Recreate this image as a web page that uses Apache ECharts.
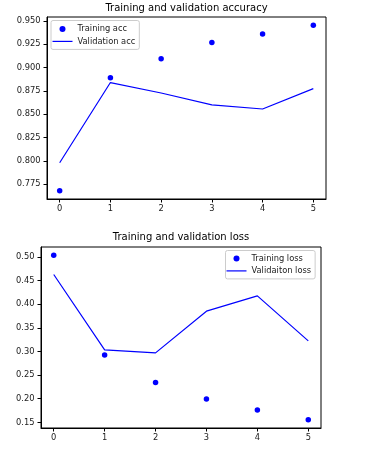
<!DOCTYPE html>
<html>
<head>
<meta charset="utf-8">
<script src="https://cdn.jsdelivr.net/npm/echarts@6/dist/echarts.min.js"></script>
<style>html,body{margin:0;padding:0;background:#fff}#c{width:365px;height:455px}</style>
</head>
<body>
<div id="c"></div>
<script>
var epochs = [0, 1, 2, 3, 4, 5];
var trainAcc = [0.768, 0.889, 0.9095, 0.927, 0.936, 0.9454];
var valAcc = [0.798, 0.884, 0.8728, 0.860, 0.8556, 0.8775];
var trainLoss = [0.5036, 0.2923, 0.2346, 0.1993, 0.176, 0.1555];
var valLoss = [0.4628, 0.3035, 0.297, 0.3852, 0.4176, 0.3225];
var accTicks = [0.775, 0.800, 0.825, 0.850, 0.875, 0.900, 0.925, 0.950];
var lossTicks = [0.15, 0.20, 0.25, 0.30, 0.35, 0.40, 0.45, 0.50];
var xTicks = [0, 1, 2, 3, 4, 5];

function range(arrs, m) {
  var all = [].concat.apply([], arrs);
  var lo = Math.min.apply(null, all), hi = Math.max.apply(null, all);
  var p = (hi - lo) * m;
  return [lo - p, hi + p];
}
var accR = range([trainAcc, valAcc], 0.05);
var lossR = range([trainLoss, valLoss], 0.05);
var xR = range([epochs], 0.05);

var FONT = 'DejaVu Sans';
var BLUE = '#0000ff';
var TXT = '#222';
var LINE_ICON = 'path://M0,0H20V1.2H0Z';

function pairs(xs, ys) { return xs.map(function (x, i) { return [x, ys[i]]; }); }

function xAxis(gi) {
  return {
    type: 'value', gridIndex: gi, min: xR[0], max: xR[1],
    axisLine: { show: true, onZero: false, lineStyle: { color: '#000', width: 1 } },
    axisTick: { show: true, length: 3.5, lineStyle: { color: '#000' }, customValues: xTicks },
    axisLabel: { customValues: xTicks, margin: 5.5, fontSize: 8.3, fontFamily: FONT, color: TXT },
    splitLine: { show: false }
  };
}
function yAxis(gi, r, ticks, dec) {
  return {
    type: 'value', gridIndex: gi, min: r[0], max: r[1],
    axisLine: { show: true, onZero: false, lineStyle: { color: '#000', width: 1 } },
    axisTick: { show: true, length: 3.5, lineStyle: { color: '#000' }, customValues: ticks },
    axisLabel: { customValues: ticks, margin: 6.5, fontSize: 8.3, fontFamily: FONT, color: TXT,
      formatter: function (v) { return v.toFixed(dec); } },
    splitLine: { show: false }
  };
}
function legend(left, top, pad, names) {
  return {
    orient: 'vertical', left: left, top: top, padding: pad, itemGap: 2.4,
    itemWidth: 20, itemHeight: 6, borderColor: '#ccc', borderWidth: 1, borderRadius: 2,
    backgroundColor: 'rgba(255,255,255,0.8)',
    textStyle: { fontSize: 8.3, fontFamily: FONT, color: TXT, lineHeight: 10 },
    data: [{ name: names[0], icon: 'circle' }, { name: names[1], icon: LINE_ICON }]
  };
}

var chart = echarts.init(document.getElementById('c'), null, { renderer: 'canvas' });
chart.setOption({
  animation: false,
  backgroundColor: '#fff',
  title: [
    { text: 'Training and validation accuracy', left: 186.5, top: 3.5, padding: 0, textAlign: 'center',
      textStyle: { fontSize: 10, fontWeight: 'normal', fontFamily: FONT, color: '#000' } },
    { text: 'Training and validation loss', left: 181, top: 232.5, padding: 0, textAlign: 'center',
      textStyle: { fontSize: 10, fontWeight: 'normal', fontFamily: FONT, color: '#000' } }
  ],
  grid: [
    { left: 47, right: 39, top: 17, height: 182, show: true, borderColor: '#000', borderWidth: 1, backgroundColor: 'transparent' },
    { left: 41, right: 44, top: 247, height: 181, show: true, borderColor: '#000', borderWidth: 1, backgroundColor: 'transparent' }
  ],
  xAxis: [xAxis(0), xAxis(1)],
  yAxis: [yAxis(0, accR, accTicks, 3), yAxis(1, lossR, lossTicks, 2)],
  legend: [
    legend(51, 20.5, [3.5, 4, 3, 1.5], ['Training acc', 'Validation acc']),
    legend(225.5, 250.5, [3, 4, 3, 1], ['Training loss', 'Validaiton loss'])
  ],
  series: [
    { name: 'Training acc', type: 'scatter', xAxisIndex: 0, yAxisIndex: 0, symbolSize: 5.5,
      itemStyle: { color: BLUE, opacity: 1 }, data: pairs(epochs, trainAcc) },
    { name: 'Validation acc', type: 'line', xAxisIndex: 0, yAxisIndex: 0, symbol: 'none', showSymbol: false,
      lineStyle: { color: BLUE, width: 1.2 }, itemStyle: { color: BLUE }, data: pairs(epochs, valAcc) },
    { name: 'Training loss', type: 'scatter', xAxisIndex: 1, yAxisIndex: 1, symbolSize: 5.5,
      itemStyle: { color: BLUE, opacity: 1 }, data: pairs(epochs, trainLoss) },
    { name: 'Validaiton loss', type: 'line', xAxisIndex: 1, yAxisIndex: 1, symbol: 'none', showSymbol: false,
      lineStyle: { color: BLUE, width: 1.2 }, itemStyle: { color: BLUE }, data: pairs(epochs, valLoss) }
  ]
});
</script>
</body>
</html>
